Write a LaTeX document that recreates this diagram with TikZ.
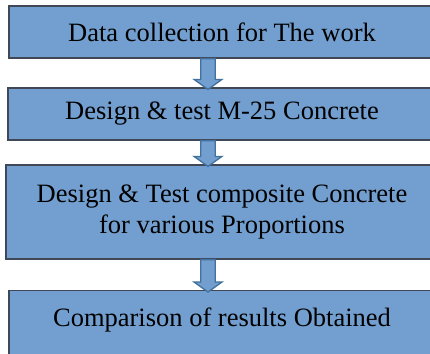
\documentclass[tikz,border=0pt]{standalone}
\usepackage{fontspec}
\setmainfont{Liberation Serif}
\usetikzlibrary{calc}
\definecolor{boxfill}{RGB}{114,159,207}
\definecolor{boxline}{RGB}{64,72,88}
\definecolor{arrline}{RGB}{65,113,156}
\newcommand\flowarr[2]{%
  \draw[flowarrow] let \p1=(#1.south), \p2=(#2.north) in
    (\x1-21.2pt,\y1) -- (\x1-6.8pt,\y1) -- (\x1-6.8pt,\y2+8pt) -- (\x1,\y2+8pt)
    -- (\x1-14pt,\y2-2pt) -- (\x1-28pt,\y2+8pt) -- (\x1-21.2pt,\y2+8pt) -- cycle;}
\begin{document}
\begin{tikzpicture}[x=1pt,y=-1pt,
  box/.style={draw=boxline, line width=1.2pt, fill=boxfill, inner sep=0pt,
    font=\fontsize{26.5}{31}\selectfont, align=center, text=black},
  flowarrow/.style={draw=arrline, line width=1.3pt, fill=boxfill, line join=miter}]
\useasboundingbox (0,0) rectangle (430,353);
\clip (0,0) rectangle (430,353);
\fill[white] (0,0) rectangle (430,353);
\node[box, minimum width=426pt, minimum height=52pt] (b1) at (222,32) {Data collection for The work};
\node[box, minimum width=428pt, minimum height=52pt] (b2) at (222,114) {Design \& test M-25 Concrete};
\node[box, minimum width=432pt, minimum height=94pt] (b3) at (222,212) {Design \& Test composite Concrete\\for various Proportions};
\node[box, minimum width=426pt, anchor=north, text height=36pt, text depth=40pt] (b4) at (222,290) {Comparison of results Obtained};
\flowarr{b1}{b2}
\flowarr{b2}{b3}
\flowarr{b3}{b4}
\end{tikzpicture}
\end{document}
